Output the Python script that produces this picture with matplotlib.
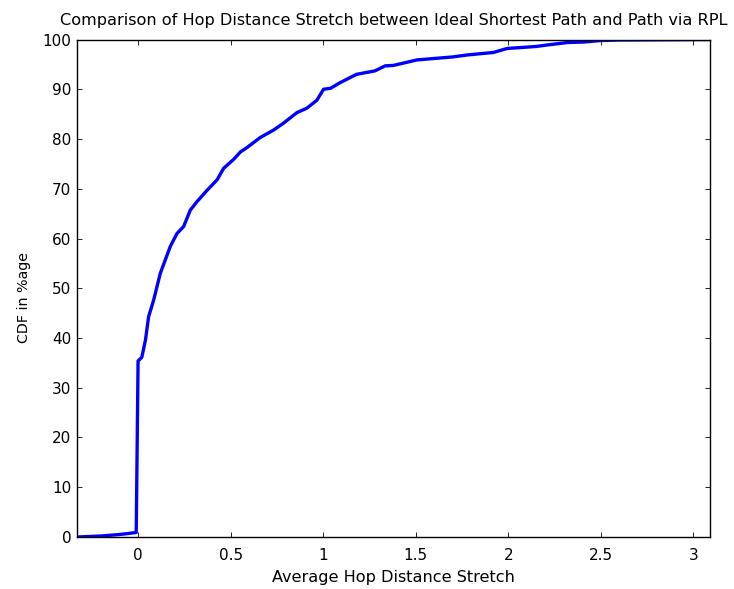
import matplotlib
matplotlib.use('Agg')
import matplotlib.pyplot as plt

plt.rcParams['font.family'] = ['DejaVu Sans']

# CDF of hop distance stretch (ideal shortest path vs RPL path)
stretch = [-0.33, -0.2, -0.1, -0.01, 0.0, 0.02, 0.04, 0.057, 0.084, 0.12,
           0.174, 0.21, 0.246, 0.282, 0.318, 0.373, 0.427, 0.462, 0.516,
           0.553, 0.589, 0.66, 0.732, 0.786, 0.858, 0.912, 0.966, 1.002,
           1.04, 1.09, 1.18, 1.28, 1.335, 1.38, 1.507, 1.70, 1.78, 1.92,
           1.994, 2.15, 2.21, 2.32, 2.41, 2.50, 2.6, 3.09]
cdf = [0.0, 0.2, 0.5, 0.9, 35.4, 36.1, 39.6, 44.3, 47.6, 53.0,
       58.4, 61.0, 62.4, 65.7, 67.4, 69.7, 71.8, 74.1, 75.9,
       77.4, 78.3, 80.3, 81.8, 83.2, 85.3, 86.2, 87.8, 90.0,
       90.2, 91.3, 93.0, 93.7, 94.7, 94.8, 95.9, 96.5, 96.9, 97.4,
       98.2, 98.6, 98.9, 99.4, 99.5, 99.8, 99.9, 100.0]

fig = plt.figure(figsize=(7.34, 5.89), dpi=100)
ax = fig.add_axes([0.1049, 0.0883, 0.8624, 0.8446])
ax.plot(stretch, cdf, color='#0000ff', linewidth=2.4)

ax.set_xlim(-0.33, 3.09)
ax.set_ylim(0, 100)
ax.set_xticks([0, 0.5, 1, 1.5, 2, 2.5, 3])
ax.set_xticklabels(['0', '0.5', '1', '1.5', '2', '2.5', '3'])
ax.set_yticks(range(0, 101, 10))
ax.tick_params(direction='in', length=3.6, width=0.6, top=True, right=True,
               labelsize=11, colors='black')
ax.tick_params(axis='x', pad=8)
ax.tick_params(axis='y', pad=4)
for s in ax.spines.values():
    s.set_linewidth(1.0)

ax.set_title('Comparison of Hop Distance Stretch between Ideal Shortest Path and Path via RPL',
             fontsize=11.6, pad=10.5)
ax.set_xlabel('Average Hop Distance Stretch', fontsize=11.6, labelpad=5)
ax.set_ylabel('CDF in %age', fontsize=10.3)
ax.yaxis.set_label_coords(-0.073, 0.482)

fig.savefig('out.png', dpi=100)
